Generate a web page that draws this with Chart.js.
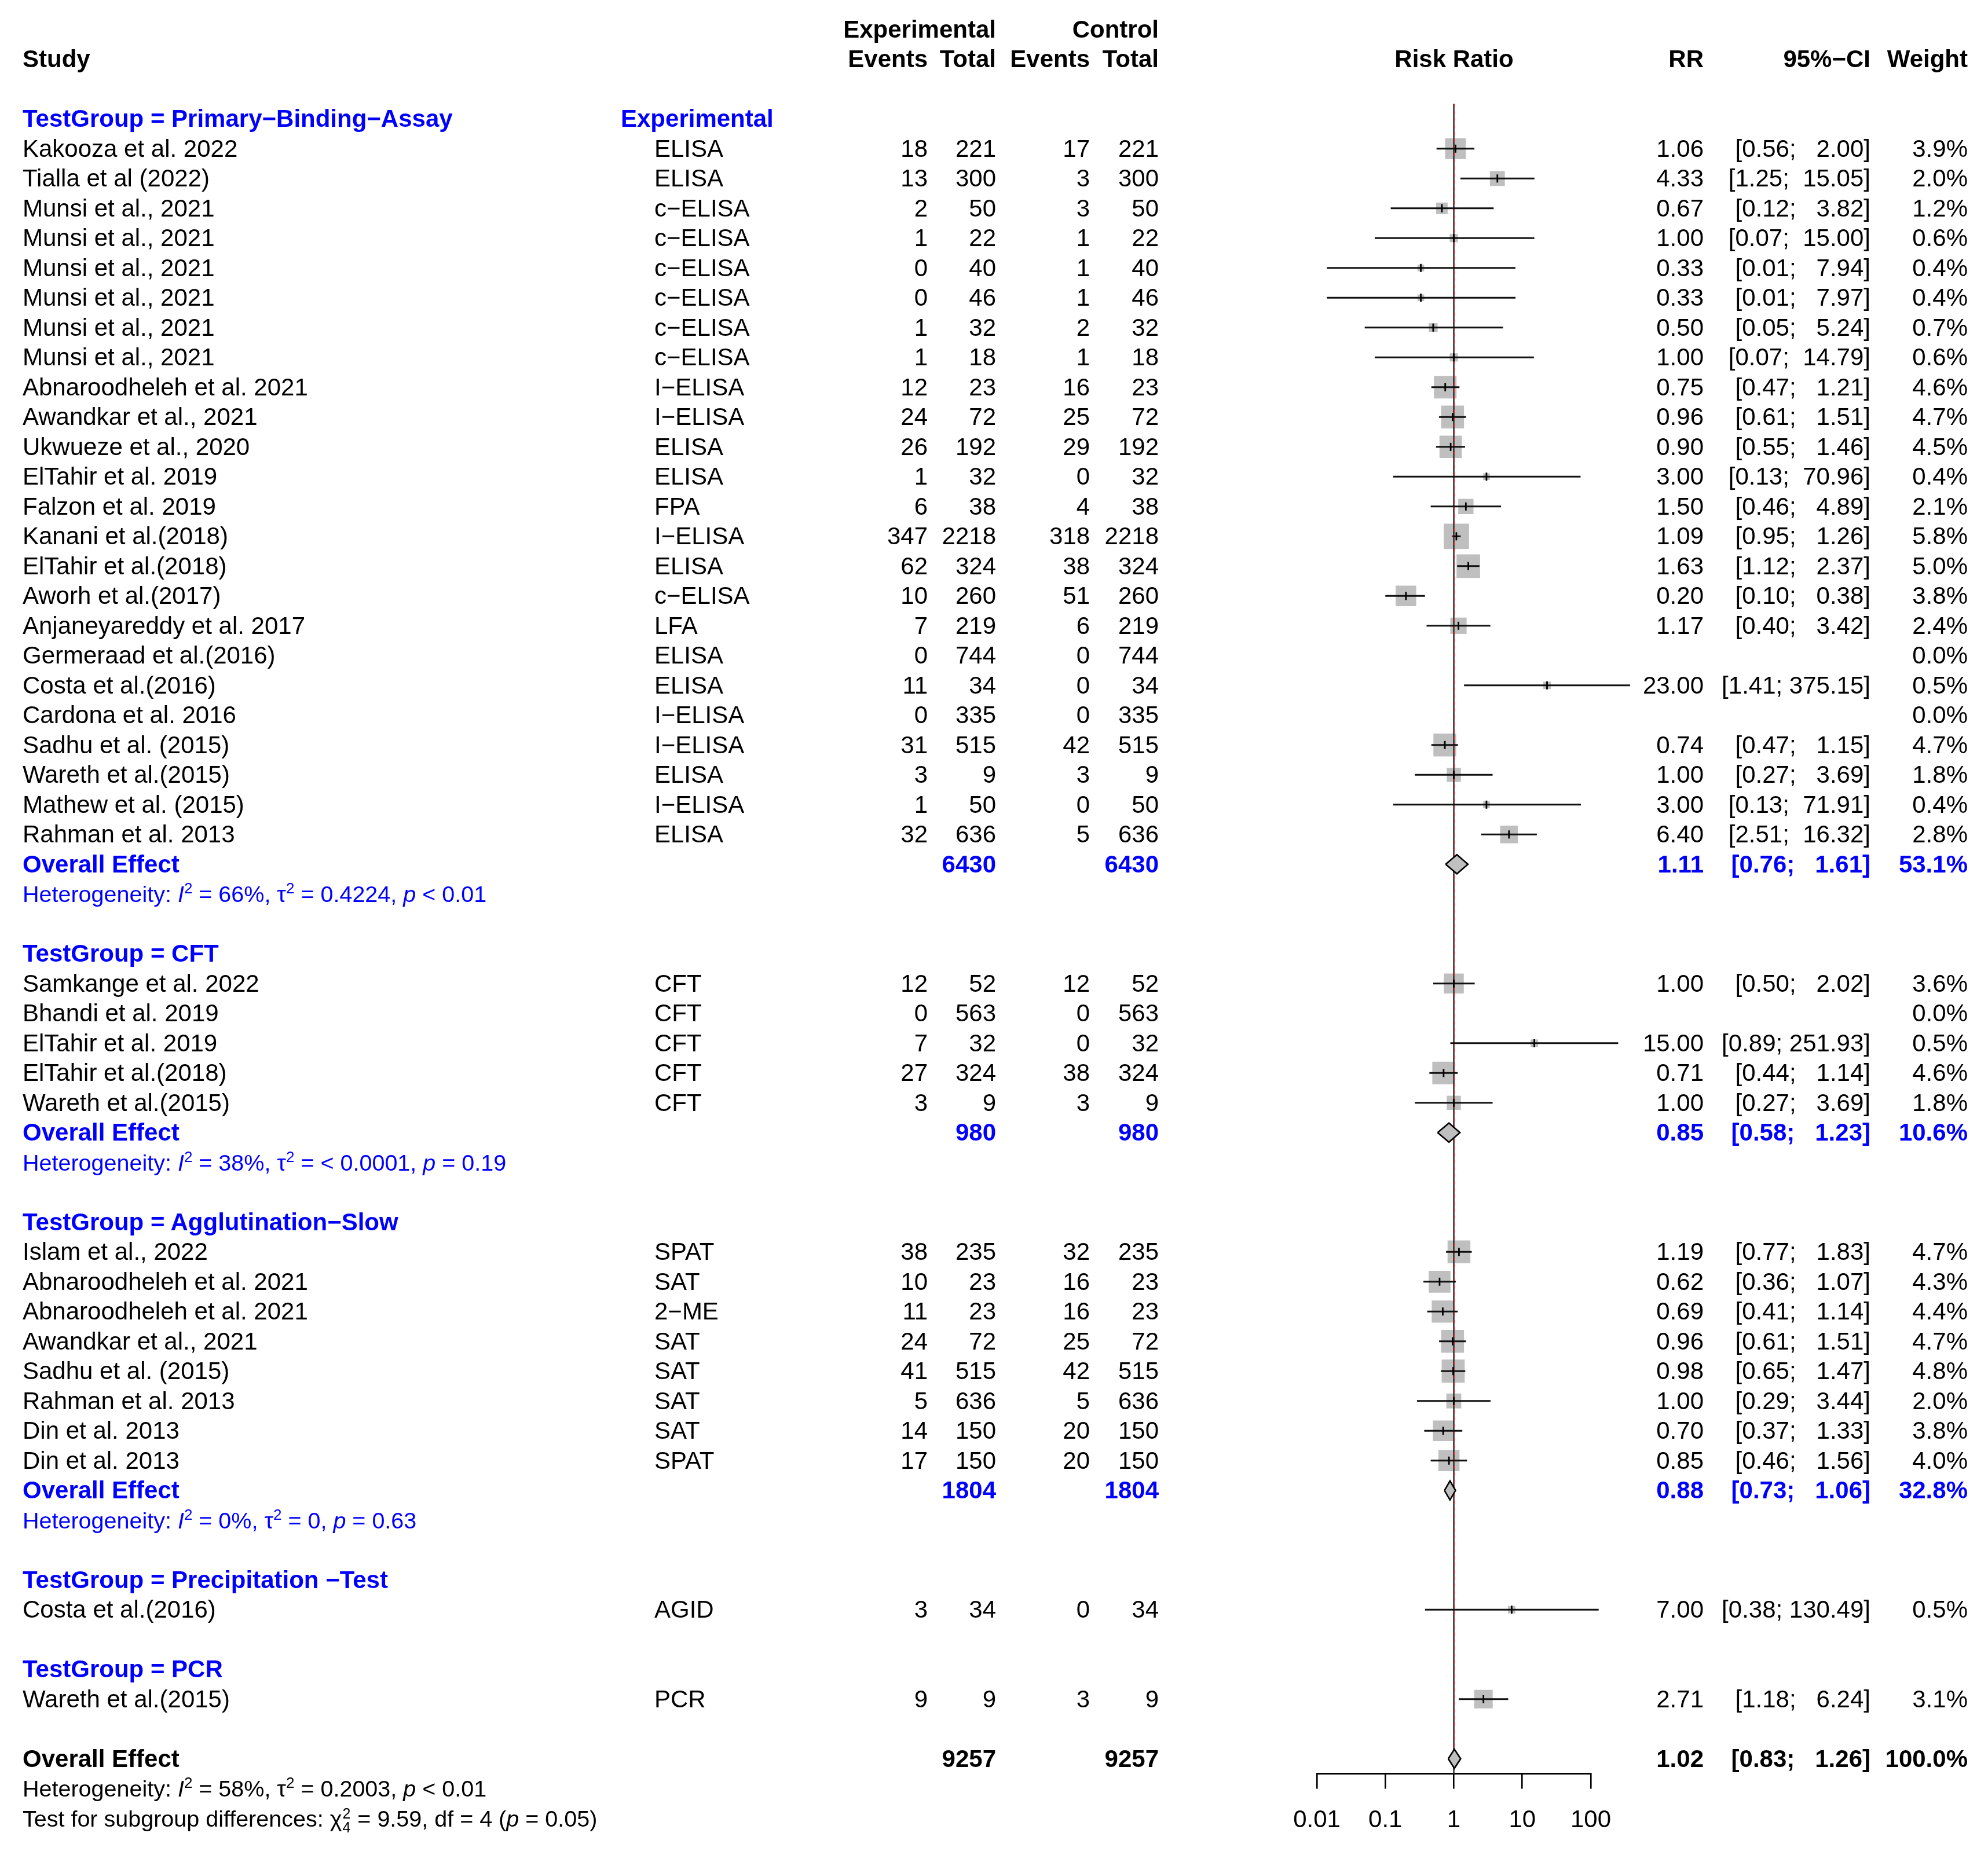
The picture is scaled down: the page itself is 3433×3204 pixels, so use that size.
<!DOCTYPE html>
<html><head><meta charset="utf-8">
<script src="https://cdn.jsdelivr.net/npm/chart.js@4.4.1/dist/chart.umd.min.js"></script>
<style>
html,body{margin:0;padding:0;background:#fff;}
#root{position:relative;width:3433px;height:3204px;overflow:hidden;background:#fff;}
#plot{position:absolute;left:0;top:0;}
.t{position:absolute;font-family:'Liberation Sans',Arial,sans-serif;font-size:42px;line-height:50px;height:50px;white-space:pre;color:#000;}
.b{font-weight:bold;}
.blue{color:#0000ff;}
.het{font-size:39.5px;}
.sup{font-size:26px;position:relative;top:-15px;}
.ss{display:inline-block;position:relative;width:16px;height:1px;}
.s1,.s2{position:absolute;left:1px;font-size:25px;line-height:25px;}
.s1{top:-34px;}
.s2{top:-10px;}
</style></head>
<body><div id="root"><canvas id="plot" width="3433" height="3204"></canvas></div>
<script>
// ---------------- DATA ----------------
const groupNames = ['Primary\u2212Binding\u2212Assay', 'CFT', 'Agglutination\u2212Slow', 'Precipitation \u2212Test', 'PCR'];
const testColumnLabel = 'Experimental';

const studyGroup = [0,0,0,0,0,0,0,0,0,0,0,0,0,0,0,0,0,0,0,0,0,0,0,0,
                    1,1,1,1,1,
                    2,2,2,2,2,2,2,2,
                    3,
                    4];
const studyNames = [
  'Kakooza et al. 2022','Tialla et al (2022)','Munsi et al., 2021','Munsi et al., 2021','Munsi et al., 2021',
  'Munsi et al., 2021','Munsi et al., 2021','Munsi et al., 2021','Abnaroodheleh et al. 2021','Awandkar et al., 2021',
  'Ukwueze et al., 2020','ElTahir et al. 2019','Falzon et al. 2019','Kanani et al.(2018)','ElTahir et al.(2018)',
  'Aworh et al.(2017)','Anjaneyareddy et al. 2017','Germeraad et al.(2016)','Costa et al.(2016)','Cardona et al. 2016',
  'Sadhu et al. (2015)','Wareth et al.(2015)','Mathew et al. (2015)','Rahman et al. 2013',
  'Samkange et al. 2022','Bhandi et al. 2019','ElTahir et al. 2019','ElTahir et al.(2018)','Wareth et al.(2015)',
  'Islam et al., 2022','Abnaroodheleh et al. 2021','Abnaroodheleh et al. 2021','Awandkar et al., 2021',
  'Sadhu et al. (2015)','Rahman et al. 2013','Din et al. 2013','Din et al. 2013',
  'Costa et al.(2016)',
  'Wareth et al.(2015)'];
const testNames = [
  'ELISA','ELISA','c\u2212ELISA','c\u2212ELISA','c\u2212ELISA','c\u2212ELISA','c\u2212ELISA','c\u2212ELISA','I\u2212ELISA','I\u2212ELISA',
  'ELISA','ELISA','FPA','I\u2212ELISA','ELISA','c\u2212ELISA','LFA','ELISA','ELISA','I\u2212ELISA',
  'I\u2212ELISA','ELISA','I\u2212ELISA','ELISA',
  'CFT','CFT','CFT','CFT','CFT',
  'SPAT','SAT','2\u2212ME','SAT','SAT','SAT','SAT','SPAT',
  'AGID',
  'PCR'];
const expEvents  = [18,13,2,1,0,0,1,1,12,24,26,1,6,347,62,10,7,0,11,0,31,3,1,32, 12,0,7,27,3, 38,10,11,24,41,5,14,17, 3, 9];
const expTotals  = [221,300,50,22,40,46,32,18,23,72,192,32,38,2218,324,260,219,744,34,335,515,9,50,636, 52,563,32,324,9, 235,23,23,72,515,636,150,150, 34, 9];
const ctrlEvents = [17,3,3,1,1,1,2,1,16,25,29,0,4,318,38,51,6,0,0,0,42,3,0,5, 12,0,0,38,3, 32,16,16,25,42,5,20,20, 0, 3];
const ctrlTotals = [221,300,50,22,40,46,32,18,23,72,192,32,38,2218,324,260,219,744,34,335,515,9,50,636, 52,563,32,324,9, 235,23,23,72,515,636,150,150, 34, 9];
const riskRatios = [1.06,4.33,0.67,1.00,0.33,0.33,0.50,1.00,0.75,0.96,0.90,3.00,1.50,1.09,1.63,0.20,1.17,null,23.00,null,0.74,1.00,3.00,6.40,
                    1.00,null,15.00,0.71,1.00,
                    1.19,0.62,0.69,0.96,0.98,1.00,0.70,0.85,
                    7.00,
                    2.71];
const ciLower = [0.56,1.25,0.12,0.07,0.014,0.014,0.05,0.07,0.47,0.61,0.55,0.13,0.46,0.95,1.12,0.10,0.40,null,1.41,null,0.47,0.27,0.13,2.51,
                 0.50,null,0.89,0.44,0.27,
                 0.77,0.36,0.41,0.61,0.65,0.29,0.37,0.46,
                 0.38,
                 1.18];
const ciUpper = [2.00,15.05,3.82,15.00,7.94,7.97,5.24,14.79,1.21,1.51,1.46,70.96,4.89,1.26,2.37,0.38,3.42,null,375.15,null,1.15,3.69,71.91,16.32,
                 2.02,null,251.93,1.14,3.69,
                 1.83,1.07,1.14,1.51,1.47,3.44,1.33,1.56,
                 130.49,
                 6.24];
const weights = [3.9,2.0,1.2,0.6,0.4,0.4,0.7,0.6,4.6,4.7,4.5,0.4,2.1,5.8,5.0,3.8,2.4,0.0,0.5,0.0,4.7,1.8,0.4,2.8,
                 3.6,0.0,0.5,4.6,1.8,
                 4.7,4.3,4.4,4.7,4.8,2.0,3.8,4.0,
                 0.5,
                 3.1];

// subgroup summaries (null = single-study subgroup, no summary shown)
const subExpTotal  = [6430, 980, 1804, null, null];
const subCtrlTotal = [6430, 980, 1804, null, null];
const subRR        = [1.11, 0.85, 0.88, null, null];
const subLower     = [0.76, 0.58, 0.73, null, null];
const subUpper     = [1.61, 1.23, 1.06, null, null];
const subWeight    = [53.1, 10.6, 32.8, null, null];
const subI2        = ['66%', '38%', '0%', null, null];
const subTau2      = ['0.4224', '< 0.0001', '0', null, null];
const subP         = ['< 0.01', '= 0.19', '= 0.63', null, null];

// overall summary
const overallExpTotal = 9257;
const overallCtrlTotal = 9257;
const overallRR = 1.02;
const overallLower = 0.83;
const overallUpper = 1.26;
const overallWeight = 100.0;
const overallI2 = '58%';
const overallTau2 = '0.2003';
const overallP = '< 0.01';
const subgroupChi2 = '9.59';
const subgroupDf = '4';
const subgroupP = '= 0.05';

// axis
const axisTicks = [0.01, 0.1, 1, 10, 100];
const axisTickLabels = ['0.01', '0.1', '1', '10', '100'];

// ---------------- LAYOUT ----------------
const W = 3433, H = 3204;
const ROW0 = 205.3, ROWH = 51.5;
const X = {study: 39, test: 1130, testLabel: 1072, expEv: 1602, expTot: 1720, ctrlEv: 1882, ctrlTot: 2001,
           rrCenter: 2511, rr: 2942, ci: 3230, wt: 3398};
const PLOT_L = 2274, PLOT_R = 2747;
const XAXIS_H = 120;
const BOX_K = 18.2;       // px per sqrt(weight %)
const DIAMOND_H = 0.32;   // half-height in rows

const root = document.getElementById('root');
function txt(content, x, r, align, cls, html) {
  const d = document.createElement('div');
  d.className = 't ' + (cls || '');
  if (html) d.innerHTML = content; else d.textContent = content;
  d.style.top = (ROW0 + ROWH * r - 25) + 'px';
  if (align === 'left') d.style.left = x + 'px';
  else if (align === 'right') d.style.right = (W - x) + 'px';
  else { d.style.left = (x - 1000) + 'px'; d.style.width = '2000px'; d.style.textAlign = 'center'; }
  root.appendChild(d);
}
const esc = s => String(s).replace(/&/g, '&amp;').replace(/</g, '&lt;');
const fmtCI = (lo, hi) => '[' + lo.toFixed(2) + '; ' + hi.toFixed(2).padStart(6, ' ') + ']';
const fmtW = w => w.toFixed(1) + '%';
const hetHTML = (i2, tau2, p) => 'Heterogeneity: <i>I</i><span class="sup">2</span> = ' + esc(i2) +
  ', \u03c4<span class="sup">2</span> = ' + esc(tau2) + ', <i>p</i> ' + esc(p);

// rows
let r = 0;
const headerRow = [], studyRow = [], subRow = [], hetRow = [];
for (let g = 0; g < groupNames.length; g++) {
  headerRow[g] = r++;
  for (let i = 0; i < studyNames.length; i++) if (studyGroup[i] === g) studyRow[i] = r++;
  if (subRR[g] !== null) { subRow[g] = r++; hetRow[g] = r++; }
  r++;
}
const overallRow = r;
const yMin = -0.5, yMax = overallRow + 0.5;

// column headers
txt('Experimental', X.expTot, -3, 'right', 'b');
txt('Control', X.ctrlTot, -3, 'right', 'b');
txt('Study', X.study, -2, 'left', 'b');
txt('Events', X.expEv, -2, 'right', 'b');
txt('Total', X.expTot, -2, 'right', 'b');
txt('Events', X.ctrlEv, -2, 'right', 'b');
txt('Total', X.ctrlTot, -2, 'right', 'b');
txt('Risk Ratio', X.rrCenter, -2, 'center', 'b');
txt('RR', X.rr, -2, 'right', 'b');
txt('95%\u2212CI', X.ci, -2, 'right', 'b');
txt('Weight', X.wt, -2, 'right', 'b');

for (let g = 0; g < groupNames.length; g++) {
  txt('TestGroup = ' + groupNames[g], X.study, headerRow[g], 'left', 'b blue');
  if (g === 0) txt(testColumnLabel, X.testLabel, headerRow[g], 'left', 'b blue');
  if (subRR[g] !== null) {
    const rr_ = subRow[g];
    txt('Overall Effect', X.study, rr_, 'left', 'b blue');
    txt(String(subExpTotal[g]), X.expTot, rr_, 'right', 'b blue');
    txt(String(subCtrlTotal[g]), X.ctrlTot, rr_, 'right', 'b blue');
    txt(subRR[g].toFixed(2), X.rr, rr_, 'right', 'b blue');
    txt(fmtCI(subLower[g], subUpper[g]), X.ci, rr_, 'right', 'b blue');
    txt(fmtW(subWeight[g]), X.wt, rr_, 'right', 'b blue');
    txt(hetHTML(subI2[g], subTau2[g], subP[g]), X.study, hetRow[g], 'left', 'blue het', true);
  }
}
for (let i = 0; i < studyNames.length; i++) {
  const rw = studyRow[i];
  txt(studyNames[i], X.study, rw, 'left');
  txt(testNames[i], X.test, rw, 'left');
  txt(String(expEvents[i]), X.expEv, rw, 'right');
  txt(String(expTotals[i]), X.expTot, rw, 'right');
  txt(String(ctrlEvents[i]), X.ctrlEv, rw, 'right');
  txt(String(ctrlTotals[i]), X.ctrlTot, rw, 'right');
  if (riskRatios[i] !== null) {
    txt(riskRatios[i].toFixed(2), X.rr, rw, 'right');
    txt(fmtCI(ciLower[i], ciUpper[i]), X.ci, rw, 'right');
  }
  txt(fmtW(weights[i]), X.wt, rw, 'right');
}
txt('Overall Effect', X.study, overallRow, 'left', 'b');
txt(String(overallExpTotal), X.expTot, overallRow, 'right', 'b');
txt(String(overallCtrlTotal), X.ctrlTot, overallRow, 'right', 'b');
txt(overallRR.toFixed(2), X.rr, overallRow, 'right', 'b');
txt(fmtCI(overallLower, overallUpper), X.ci, overallRow, 'right', 'b');
txt(fmtW(overallWeight), X.wt, overallRow, 'right', 'b');
txt(hetHTML(overallI2, overallTau2, overallP), X.study, overallRow + 1, 'left', 'het', true);
txt('Test for subgroup differences: \u03c7<span class="ss"><span class="s1">2</span><span class="s2">' + subgroupDf +
    '</span></span> = ' + subgroupChi2 + ', df = ' + subgroupDf + ' (<i>p</i> ' + esc(subgroupP) + ')',
    X.study, overallRow + 2, 'left', 'het', true);

// ---------------- CHART ----------------
const datasets = [];
const studyPts = [];
for (let i = 0; i < studyNames.length; i++) {
  if (riskRatios[i] === null) continue;
  studyPts.push({x: riskRatios[i], y: studyRow[i], w: weights[i]});
}
// center ticks (top)
datasets.push({type: 'line', showLine: false, data: studyPts, pointStyle: 'line', pointRotation: 90,
  pointRadius: 7, pointBorderColor: '#000', pointBorderWidth: 2.8, clip: false});
// CI lines
for (let i = 0; i < studyNames.length; i++) {
  if (riskRatios[i] === null) continue;
  datasets.push({type: 'line', data: [{x: ciLower[i], y: studyRow[i]}, {x: ciUpper[i], y: studyRow[i]}],
    borderColor: '#111', borderWidth: 3, pointRadius: 0, clip: false, borderCapStyle: 'butt'});
}
// diamonds
function diamond(lo, est, hi, row) {
  return {type: 'line', data: [{x: lo, y: row}, {x: est, y: row - DIAMOND_H}, {x: hi, y: row}, {x: est, y: row + DIAMOND_H}, {x: lo, y: row}],
    borderColor: '#000', borderWidth: 2.6, backgroundColor: '#bfbfbf', fill: 'shape', pointRadius: 0, tension: 0,
    borderJoinStyle: 'miter', clip: false};
}
for (let g = 0; g < groupNames.length; g++) {
  if (subRR[g] !== null) datasets.push(diamond(subLower[g], subRR[g], subUpper[g], subRow[g]));
}
datasets.push(diamond(overallLower, overallRR, overallUpper, overallRow));
// reference lines
datasets.push({type: 'line', data: [{x: overallRR, y: yMin}, {x: overallRR, y: overallRow - DIAMOND_H}],
  borderColor: '#e0262b', borderWidth: 1.6, borderDash: [6, 6], pointRadius: 0, clip: false});
datasets.push({type: 'line', data: [{x: 1, y: yMin}, {x: 1, y: yMax}],
  borderColor: '#333', borderWidth: 2.6, pointRadius: 0, clip: false});
// boxes (bottom)
datasets.push({type: 'line', showLine: false, data: studyPts, pointStyle: 'rect',
  pointRadius: ctx => (ctx.raw && ctx.raw.w ? BOX_K * Math.sqrt(ctx.raw.w) / Math.SQRT2 : 0),
  pointBackgroundColor: '#bfbfbf', pointBorderWidth: 0, pointBorderColor: 'rgba(0,0,0,0)', clip: false});

new Chart(document.getElementById('plot'), {
  type: 'line',
  data: {datasets},
  options: {
    responsive: false, animation: false, devicePixelRatio: 1, events: [],
    layout: {padding: {left: PLOT_L, right: W - PLOT_R, top: ROW0 + yMin * ROWH,
                       bottom: H - (ROW0 + yMax * ROWH) - XAXIS_H}},
    plugins: {legend: {display: false}, tooltip: {enabled: false}},
    scales: {
      x: {type: 'logarithmic', min: axisTicks[0], max: axisTicks[axisTicks.length - 1], position: 'bottom',
        afterBuildTicks: s => { s.ticks = axisTicks.map(v => ({value: v})); },
        afterFit: s => { s.height = XAXIS_H; },
        ticks: {autoSkip: false, maxRotation: 0, minRotation: 0, padding: 30, color: '#000',
          font: {family: "'Liberation Sans', Arial, sans-serif", size: 42},
          callback: v => { const k = axisTicks.indexOf(v); return k >= 0 ? axisTickLabels[k] : ''; }},
        grid: {drawOnChartArea: false, drawTicks: true, tickLength: 26, tickWidth: 2.6, tickColor: '#000',
          color: '#000', lineWidth: 2.6},
        border: {display: true, color: '#000', width: 3}
      },
      y: {type: 'linear', min: yMin, max: yMax, reverse: true, display: false}
    }
  }
});
</script>
</body></html>
